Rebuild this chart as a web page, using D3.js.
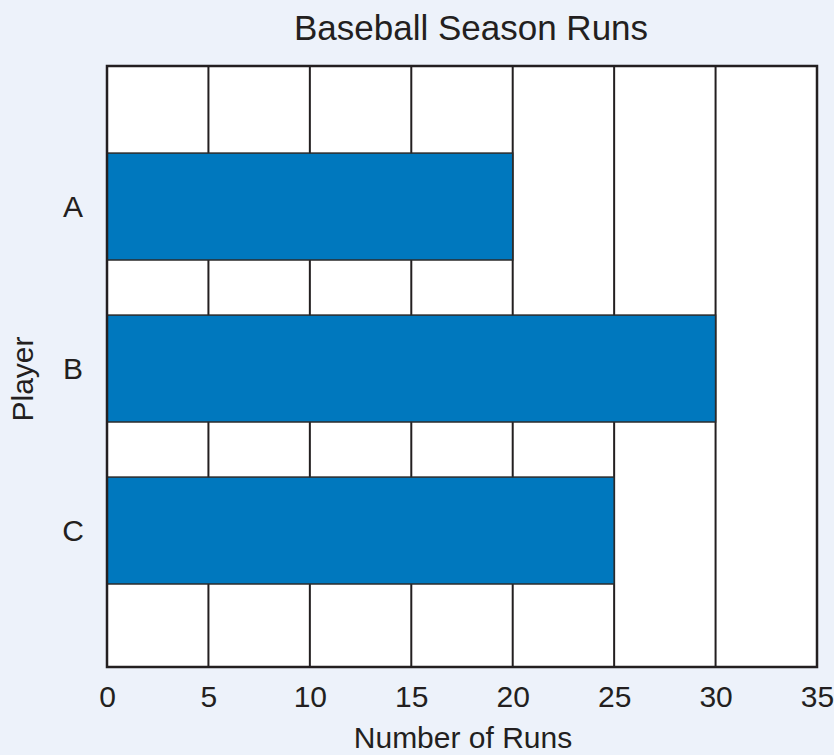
<!DOCTYPE html>
<html>
<head>
<meta charset="utf-8">
<script src="https://cdn.jsdelivr.net/npm/d3@7"></script>
<style>
  body { margin: 0; background: #edf2fa; }
  text { font-family: "Liberation Sans", Arial, sans-serif; fill: #231f20; }
</style>
</head>
<body>
<div id="wrapper"></div>
<script>
var players = ["A", "B", "C"]
var runs = [20, 30, 25]
var xTicks = [0, 5, 10, 15, 20, 25, 30, 35]

var dimension = {
    width: 834,
    height: 755,
    margin: { top: 66, right: 17, bottom: 88, left: 107 }
}
dimension.boundedWidth = dimension.width - dimension.margin.left - dimension.margin.right
dimension.boundedHeight = dimension.height - dimension.margin.top - dimension.margin.bottom

var data = players.map((p, i) => ({ player: p, runs: runs[i] }))

const svg = d3.select("#wrapper")
    .append("svg")
    .attr("width", dimension.width)
    .attr("height", dimension.height)

svg.append("rect")
    .attr("width", dimension.width)
    .attr("height", dimension.height)
    .attr("fill", "#edf2fa")

const g = svg.append("g")
    .attr("transform", `translate(${dimension.margin.left},${dimension.margin.top})`)

var x = d3.scaleLinear()
    .domain([0, 35])
    .range([0, dimension.boundedWidth])

var y = d3.scaleBand()
    .domain(players)
    .range([0, dimension.boundedHeight])
    .paddingInner(0.34)
    .paddingOuter(0.525)
    .align(0.512)

// plot background
g.append("rect")
    .attr("width", dimension.boundedWidth)
    .attr("height", dimension.boundedHeight)
    .attr("fill", "#ffffff")

// vertical grid
g.append("g")
    .selectAll("line")
    .data(xTicks.slice(1, -1))
    .enter()
    .append("line")
    .attr("x1", d => x(d))
    .attr("x2", d => x(d))
    .attr("y1", 0)
    .attr("y2", dimension.boundedHeight)
    .style("stroke", "#231f20")
    .style("stroke-width", 2)

// bars
g.append("g")
    .selectAll("rect")
    .data(data)
    .enter()
    .append("rect")
    .attr("x", x(0))
    .attr("y", d => y(d.player))
    .attr("width", d => x(d.runs) - x(0))
    .attr("height", y.bandwidth())
    .attr("fill", "#0078be")
    .style("stroke", "#2b2b2b")
    .style("stroke-width", 1.5)

// frame
g.append("rect")
    .attr("width", dimension.boundedWidth)
    .attr("height", dimension.boundedHeight)
    .attr("fill", "none")
    .style("stroke", "#231f20")
    .style("stroke-width", 2.5)

// x axis labels
const xAxis = g.append("g")
    .attr("transform", `translate(0,${dimension.boundedHeight})`)
    .call(d3.axisBottom(x).tickValues(xTicks).tickSize(0).tickPadding(0))
xAxis.select(".domain").remove()
xAxis.selectAll("text")
    .attr("dy", null)
    .attr("y", 40)
    .style("font-size", "30px")
    .style("fill", "#231f20")
    .attr("font-family", null)

// y axis labels
const yAxis = g.append("g")
    .attr("transform", `translate(-34,0)`)
    .call(d3.axisLeft(y).tickSize(0).tickPadding(0))
yAxis.select(".domain").remove()
yAxis.selectAll("text")
    .attr("text-anchor", "middle")
    .attr("dy", "0.36em")
    .style("font-size", "30px")
    .style("fill", "#231f20")
    .attr("font-family", null)

// title
svg.append("text")
    .attr("x", 471)
    .attr("y", 40)
    .attr("text-anchor", "middle")
    .style("font-size", "35px")
    .text("Baseball Season Runs")

// x label
svg.append("text")
    .attr("x", 463)
    .attr("y", 748)
    .attr("text-anchor", "middle")
    .style("font-size", "30px")
    .text("Number of Runs")

// y label
svg.append("text")
    .attr("transform", "translate(33,379) rotate(-90)")
    .attr("text-anchor", "middle")
    .style("font-size", "30px")
    .text("Player")
</script>
</body>
</html>
